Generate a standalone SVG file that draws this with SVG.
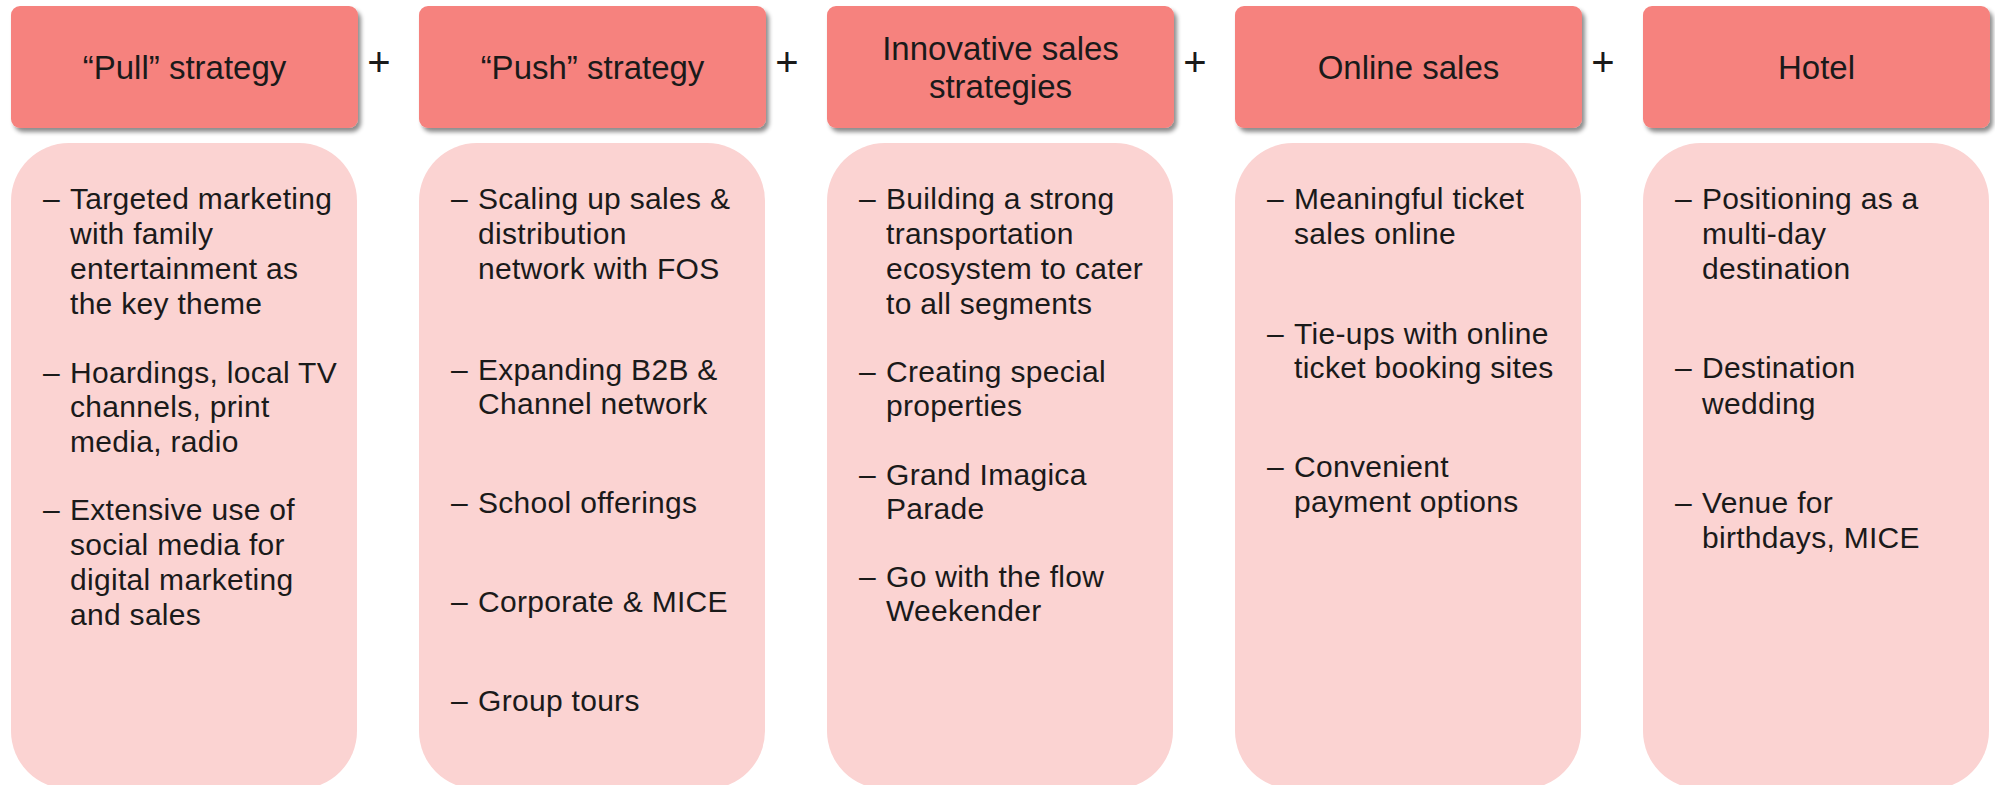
<svg xmlns="http://www.w3.org/2000/svg" width="1995" height="785" viewBox="0 0 1995 785">
<defs>
<filter id="sh" x="-10%" y="-10%" width="125%" height="130%">
<feDropShadow dx="3" dy="4" stdDeviation="2.2" flood-color="#000" flood-opacity="0.45"/>
</filter>
</defs>
<style>
.hdr{fill:#F6827E;filter:url(#sh)}
.body{fill:#FBD3D2}
.ht{font-family:"Liberation Sans",Arial,sans-serif;font-size:33px;fill:#1a1a1a;text-anchor:middle}
.bt{font-family:"Liberation Sans",Arial,sans-serif;font-size:30px;fill:#1a1a1a;letter-spacing:0.3px}
.plus{font-family:"Liberation Sans",Arial,sans-serif;font-size:40px;fill:#1a1a1a;text-anchor:middle}
</style>
<rect width="1995" height="785" fill="#fff"/>

<g id="connectors">
<text class="plus" x="379" y="76">+</text>
<text class="plus" x="787" y="76">+</text>
<text class="plus" x="1195" y="76">+</text>
<text class="plus" x="1603" y="76">+</text>
</g>

<g id="col1">
<rect class="hdr" x="11" y="6" width="347" height="122" rx="9"/>
<text class="ht" x="184.5" y="79">“Pull” strategy</text>
<rect class="body" x="11" y="143" width="346" height="646" rx="58"/>
<g class="bt">
<text x="43" y="209">–</text>
<text x="70" y="209">Targeted marketing</text>
<text x="70" y="244">with family</text>
<text x="70" y="279">entertainment as</text>
<text x="70" y="314">the key theme</text>
<text x="43" y="383">–</text>
<text x="70" y="383">Hoardings, local TV</text>
<text x="70" y="417">channels, print</text>
<text x="70" y="452">media, radio</text>
<text x="43" y="520">–</text>
<text x="70" y="520">Extensive use of</text>
<text x="70" y="555">social media for</text>
<text x="70" y="590">digital marketing</text>
<text x="70" y="625">and sales</text>
</g>
</g>

<g id="col2">
<rect class="hdr" x="419" y="6" width="347" height="122" rx="9"/>
<text class="ht" x="592.5" y="79">“Push” strategy</text>
<rect class="body" x="419" y="143" width="346" height="646" rx="58"/>
<g class="bt">
<text x="451" y="209">–</text>
<text x="478" y="209">Scaling up sales &amp;</text>
<text x="478" y="244">distribution</text>
<text x="478" y="279">network with FOS</text>
<text x="451" y="380">–</text>
<text x="478" y="380">Expanding B2B &amp;</text>
<text x="478" y="414">Channel network</text>
<text x="451" y="513">–</text>
<text x="478" y="513">School offerings</text>
<text x="451" y="612">–</text>
<text x="478" y="612">Corporate &amp; MICE</text>
<text x="451" y="711">–</text>
<text x="478" y="711">Group tours</text>
</g>
</g>

<g id="col3">
<rect class="hdr" x="827" y="6" width="347" height="122" rx="9"/>
<text class="ht" x="1000.5" y="60">Innovative sales</text>
<text class="ht" x="1000.5" y="98">strategies</text>
<rect class="body" x="827" y="143" width="346" height="646" rx="58"/>
<g class="bt">
<text x="859" y="209">–</text>
<text x="886" y="209">Building a strong</text>
<text x="886" y="244">transportation</text>
<text x="886" y="279">ecosystem to cater</text>
<text x="886" y="314">to all segments</text>
<text x="859" y="382">–</text>
<text x="886" y="382">Creating special</text>
<text x="886" y="416">properties</text>
<text x="859" y="485">–</text>
<text x="886" y="485">Grand Imagica</text>
<text x="886" y="519">Parade</text>
<text x="859" y="587">–</text>
<text x="886" y="587">Go with the flow</text>
<text x="886" y="621">Weekender</text>
</g>
</g>

<g id="col4">
<rect class="hdr" x="1235" y="6" width="347" height="122" rx="9"/>
<text class="ht" x="1408.5" y="79">Online sales</text>
<rect class="body" x="1235" y="143" width="346" height="646" rx="58"/>
<g class="bt">
<text x="1267" y="209">–</text>
<text x="1294" y="209">Meaningful ticket</text>
<text x="1294" y="244">sales online</text>
<text x="1267" y="344">–</text>
<text x="1294" y="344">Tie-ups with online</text>
<text x="1294" y="378">ticket booking sites</text>
<text x="1267" y="477">–</text>
<text x="1294" y="477">Convenient</text>
<text x="1294" y="512">payment options</text>
</g>
</g>

<g id="col5">
<rect class="hdr" x="1643" y="6" width="347" height="122" rx="9"/>
<text class="ht" x="1816.5" y="79">Hotel</text>
<rect class="body" x="1643" y="143" width="346" height="646" rx="58"/>
<g class="bt">
<text x="1675" y="209">–</text>
<text x="1702" y="209">Positioning as a</text>
<text x="1702" y="244">multi-day</text>
<text x="1702" y="279">destination</text>
<text x="1675" y="378">–</text>
<text x="1702" y="378">Destination</text>
<text x="1702" y="414">wedding</text>
<text x="1675" y="513">–</text>
<text x="1702" y="513">Venue for</text>
<text x="1702" y="548">birthdays, MICE</text>
</g>
</g>
</svg>
